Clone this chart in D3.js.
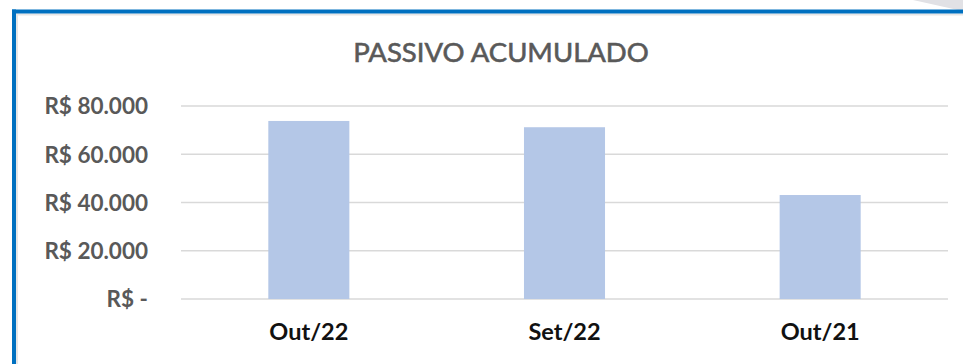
<!DOCTYPE html>
<html>
<head>
<meta charset="utf-8">
<script src="https://cdn.jsdelivr.net/npm/d3@7"></script>
<style>
  html, body { margin: 0; padding: 0; background: #ffffff; }
  svg { display: block; }
</style>
</head>
<body>
<svg id="chart" width="963" height="364"></svg>
<script>
// Accumulated liabilities per month
const categories = ["Out/22", "Set/22", "Out/21"];
const values = [73800, 71200, 43100];
const yTicks = [0, 20000, 40000, 60000, 80000];
const yTickLabels = ["R$ -", "R$ 20.000", "R$ 40.000", "R$ 60.000", "R$ 80.000"];
const title = "PASSIVO ACUMULADO";

const W = 963, H = 364;
const svg = d3.select("#chart");
const font = "Lato, 'Open Sans', sans-serif";

// Slanted grey shape behind the frame at the top right
svg.append("path")
  .attr("d", `M913,0 L${W},0 L${W},10 L958,10 Z`)
  .attr("fill", "#e1e1e5");

// Frame: soft shadow, then blue border on top and left
svg.append("rect").attr("x", 16).attr("y", 13).attr("width", W).attr("height", H)
  .attr("fill", "#ffffff");
svg.append("rect").attr("x", 16).attr("y", 13.5).attr("width", W).attr("height", 2)
  .attr("fill", "#e6e6e6");
svg.append("rect").attr("x", 16).attr("y", 13.5).attr("width", 2).attr("height", H)
  .attr("fill", "#e6e6e6");
svg.append("rect").attr("x", 12).attr("y", 9.5).attr("width", W).attr("height", 4)
  .attr("fill", "#0070c0");
svg.append("rect").attr("x", 12).attr("y", 9.5).attr("width", 4).attr("height", H)
  .attr("fill", "#0070c0");

// Plot area
const plot = { left: 181, right: 948, top: 106, bottom: 299 };

const x = d3.scaleBand()
  .domain(categories)
  .range([plot.left, plot.right])
  .paddingInner(0.683)
  .paddingOuter(0.683 / 2);

const y = d3.scaleLinear()
  .domain([0, 80000])
  .range([plot.bottom, plot.top]);

// Gridlines
svg.append("g")
  .selectAll("line")
  .data(yTicks)
  .join("line")
  .attr("x1", plot.left)
  .attr("x2", plot.right)
  .attr("y1", d => y(d))
  .attr("y2", d => y(d))
  .attr("stroke", "#d9d9d9")
  .attr("stroke-width", 1.6);

// Bars
svg.append("g")
  .selectAll("rect")
  .data(categories.map((c, i) => ({ c, v: values[i] })))
  .join("rect")
  .attr("x", d => x(d.c))
  .attr("width", x.bandwidth())
  .attr("y", d => y(d.v))
  .attr("height", d => y(0) - y(d.v))
  .attr("fill", "#b4c7e7");

// Y axis labels
const yAxis = d3.axisLeft(y)
  .tickValues(yTicks)
  .tickSize(0)
  .tickPadding(0)
  .tickFormat((d, i) => yTickLabels[i]);
const gy = svg.append("g")
  .attr("transform", "translate(148,0)")
  .call(yAxis);
gy.select(".domain").remove();
gy.selectAll("text")
  .attr("font-family", font)
  .attr("font-size", 22.5)
  .attr("font-weight", "bold")
  .attr("fill", "#595959")
  .attr("dy", "0.35em");

// X axis labels
const xAxis = d3.axisBottom(x).tickSize(0).tickPadding(0);
const gx = svg.append("g")
  .attr("transform", `translate(0,${plot.bottom})`)
  .call(xAxis);
gx.select(".domain").remove();
gx.selectAll("text")
  .attr("font-family", font)
  .attr("font-size", 23.5)
  .attr("font-weight", "bold")
  .attr("fill", "#111111")
  .attr("dy", null)
  .attr("y", 41);

// Title
svg.append("text")
  .attr("x", 501)
  .attr("y", 62)
  .attr("text-anchor", "middle")
  .attr("font-family", font)
  .attr("font-size", 27.5)
  .attr("fill", "#595959")
  .attr("stroke", "#595959")
  .attr("stroke-width", 0.6)
  .text(title);
</script>
</body>
</html>
